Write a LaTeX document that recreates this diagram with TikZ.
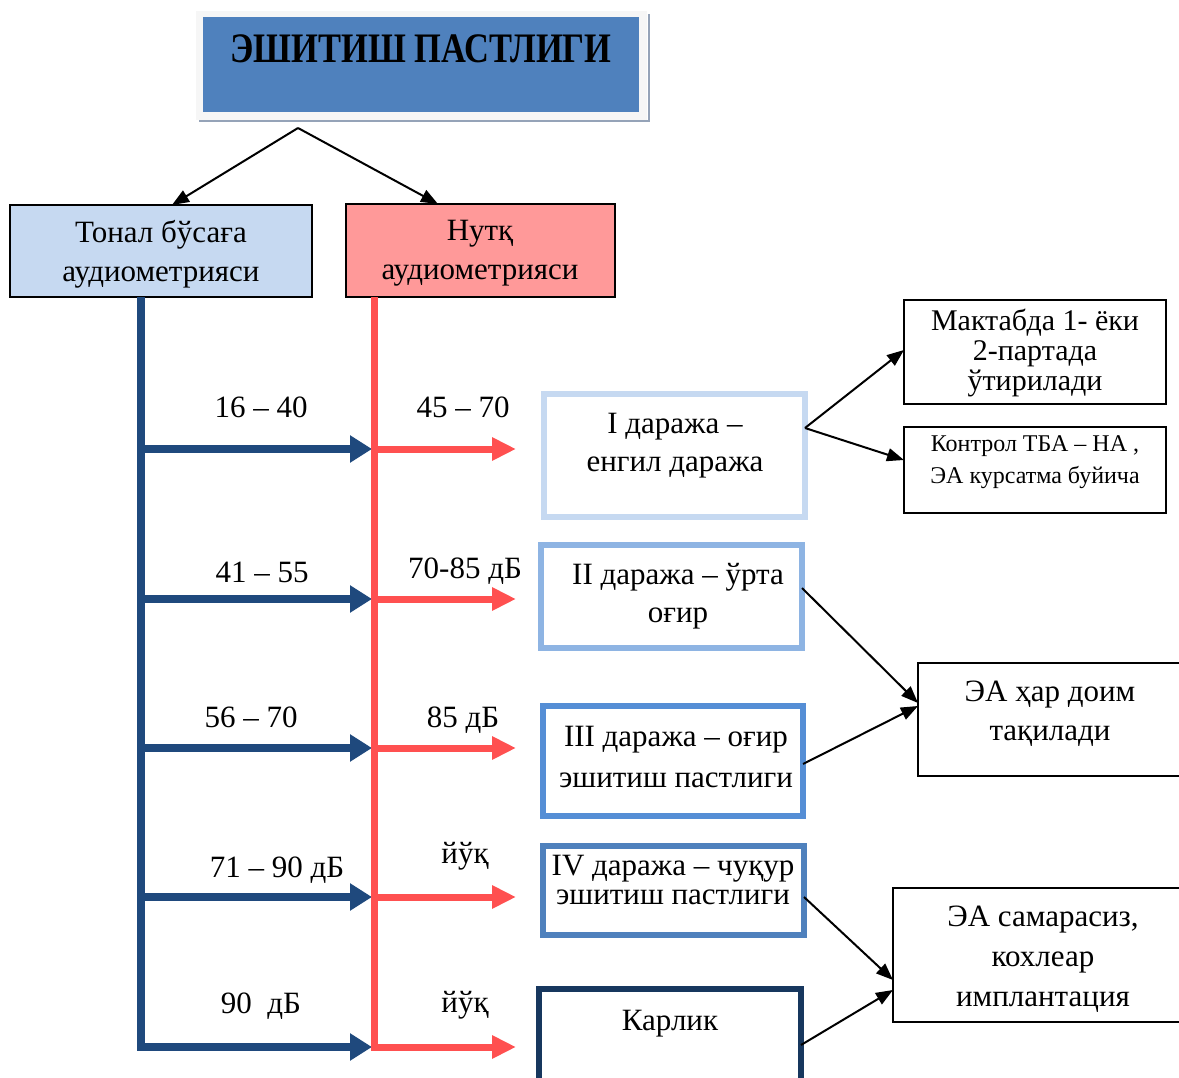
\documentclass[tikz,border=0pt]{standalone}
\usepackage{fontspec}
\usepackage{graphicx}
\setmainfont{Liberation Serif}
\usetikzlibrary{arrows.meta,calc}
\definecolor{titleblue}{HTML}{4F81BD}
\definecolor{lblue}{HTML}{C6D9F1}
\definecolor{pinkfill}{HTML}{FF9999}
\definecolor{dblue}{HTML}{1F497D}
\definecolor{rred}{HTML}{FF5050}
\definecolor{cI}{HTML}{C6D9F1}
\definecolor{cII}{HTML}{8EB4E3}
\definecolor{cIII}{HTML}{558ED5}
\definecolor{cIV}{HTML}{4F81BD}
\definecolor{cV}{HTML}{17375E}
\definecolor{shadowgray}{HTML}{95A3B8}
\begin{document}
\begin{tikzpicture}[x=1pt,y=-1pt,
  bx/.style={draw, line width=1.5pt, inner sep=0pt, outer sep=0pt, anchor=north west},
  gr/.style={draw, fill=white, line width=6pt, inner sep=0pt, outer sep=0pt, anchor=north west},
  txt/.style={font=\fontsize{31}{38}\selectfont, align=center, inner sep=0pt},
  lab/.style={font=\fontsize{31}{36}\selectfont, inner sep=0pt, anchor=base},
  conn/.style={line width=2pt, -{Triangle[length=17pt,width=13pt]}},
  bluearr/.style={draw=dblue, line width=8pt, -{Triangle[length=22pt,width=26pt]}},
  redarr/.style={draw=rred, line width=7pt, -{Triangle[length=24pt,width=22pt]}}]
\useasboundingbox (0,0) rectangle (1179,1078);

% title
\node[anchor=north west, fill=gray!7, inner sep=0pt, outer sep=0pt, minimum width=451, minimum height=109] (tframe) at (196,11) {};
\draw[shadowgray, line width=2pt] (tframe.south west) ++(3,1) -- ++(450,0) -- ++(0,-107);
\node[anchor=north west, fill=titleblue, inner sep=0pt, outer sep=0pt, minimum width=436, minimum height=95] (title) at (203,17) {};
\node[anchor=base, inner sep=0pt, font=\fontsize{42}{48}\selectfont\bfseries] (titlet) at (421,63) {\scalebox{0.82}[1]{ЭШИТИШ ПАСТЛИГИ}};

% two audiometry boxes
\node[bx, fill=lblue, minimum width=302, minimum height=92] (tonal) at (10,205) {};
\node[txt, font=\fontsize{31}{39}\selectfont] (tonalt) at (161,254) {Тонал бўсаға\\аудиометрияси};
\node[bx, fill=pinkfill, minimum width=269, minimum height=93] (nutq) at (346,204) {};
\node[txt, font=\fontsize{31}{39}\selectfont] (nutqt) at (480,253) {Нутқ\\аудиометрияси};

\coordinate (apex) at (298,128);
\draw[conn] (apex) -- ([xshift=11pt]tonal.north);
\draw[conn] (apex) -- ([xshift=-42.5pt]nutq.north);

% vertical lines and arrows
\coordinate (b0) at ([xshift=-20pt]tonal.south);
\coordinate (r0) at ([xshift=-106.5pt]nutq.south);
\coordinate (b1) at (141,449); \coordinate (r1) at (374,449); \coordinate (e1) at (516,449);
\coordinate (b2) at (141,599); \coordinate (r2) at (374,599); \coordinate (e2) at (516,599);
\coordinate (b3) at (141,748); \coordinate (r3) at (374,748); \coordinate (e3) at (516,748);
\coordinate (b4) at (141,897); \coordinate (r4) at (374,897); \coordinate (e4) at (516,897);
\coordinate (b5) at (141,1047); \coordinate (r5) at (374,1047); \coordinate (e5) at (516,1047);

\draw[bluearr] (b0) -- (b5) -- ([xshift=-2pt]r5);
\foreach \i in {1,2,3,4} { \draw[bluearr] (b\i) -- ([xshift=-2pt]r\i); }
\draw[redarr] (r0) -- (r5) -- (e5);
\foreach \i in {1,2,3,4} { \draw[redarr] (r\i) -- (e\i); }

% labels
\node[lab] (l1) at (261,417) {16 – 40};
\node[lab] (l2) at (262,582) {41 – 55};
\node[lab] (l3) at (251,727) {56 – 70};
\node[lab] (l4) at (277,877) {71 – 90 дБ};
\node[lab] (l5) at (261,1013) {90\ \ дБ};
\node[lab] (m1) at (463,417) {45 – 70};
\node[lab] (m2) at (465,578) {70-85 дБ};
\node[lab] (m3) at (463,727) {85 дБ};
\node[lab] (m4) at (465,863) {йўқ};
\node[lab] (m5) at (465,1012) {йўқ};

% grade boxes
\node[gr, draw=cI, minimum width=261, minimum height=123] (g1) at (544,394) {};
\node[txt] (g1t) at (675,446) {I даража –\\енгил даража};
\node[gr, draw=cII, minimum width=261, minimum height=103] (g2) at (541,545) {};
\node[txt] (g2t) at (678,596) {II даража – ўрта\\оғир};
\node[gr, draw=cIII, minimum width=260, minimum height=110] (g3) at (543,706) {};
\node[txt, font=\fontsize{31}{41}\selectfont] (g3t) at (676,757) {III даража – оғир\\эшитиш пастлиги};
\node[gr, draw=cIV, minimum width=261, minimum height=89] (g4) at (543,846) {};
\node[txt, font=\fontsize{31}{29}\selectfont] (g4t) at (673,880) {IV даража – чуқур\\эшитиш пастлиги};
\node[gr, draw=cV, minimum width=262, minimum height=100] (g5) at (539,989) {};
\node[lab] (g5t) at (670,1030) {Карлик};

% right boxes
\node[bx, minimum width=262, minimum height=104] (mak) at (904,300) {};
\node[txt, font=\fontsize{30}{30}\selectfont] (makt) at (1035,353) {Мактабда 1- ёки\\2-партада\\ўтирилади};
\node[bx, minimum width=262, minimum height=86] (kon) at (904,427) {};
\node[txt, font=\fontsize{24}{32}\selectfont] (kont) at (1035,462) {Контрол ТБА – НА ,\\ЭА курсатма буйича};
\node[bx, minimum width=270, minimum height=113] (ea) at (918,663) {};
\node[txt, font=\fontsize{31}{39}\selectfont] (eat) at (1050,714) {ЭА ҳар доим\\тақилади};
\node[bx, minimum width=295, minimum height=134] (sam) at (893,888) {};
\node[txt, font=\fontsize{31}{40}\selectfont] (samt) at (1043,959) {ЭА самарасиз,\\кохлеар\\имплантация};

% connectors
\draw[conn] ([yshift=27.5pt]g1.east) -- ([yshift=2pt]mak.west);
\draw[conn] ([yshift=27.5pt]g1.east) -- ([yshift=10pt]kon.west);
\draw[conn] ([yshift=8.5pt]g2.east) -- ([yshift=16.5pt]ea.west);
\draw[conn] ([yshift=-3pt]g3.east) -- ([yshift=13.5pt]ea.west);
\draw[conn] ([yshift=-6.5pt]g4.east) -- ([yshift=-25pt]sam.west);
\draw[conn] ([yshift=-6pt]g5.east) -- ([yshift=-35pt]sam.west);
\end{tikzpicture}
\end{document}
